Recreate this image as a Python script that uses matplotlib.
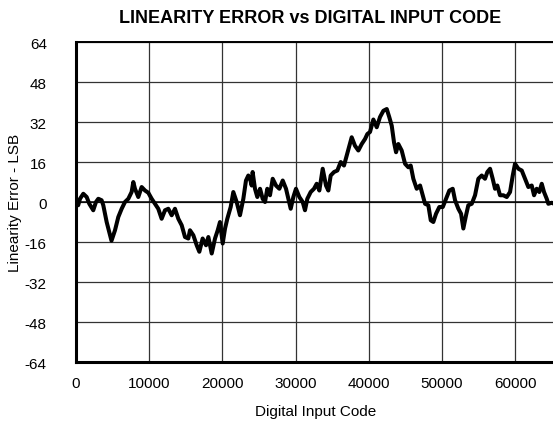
import matplotlib
matplotlib.use("Agg")
import matplotlib.pyplot as plt

plt.rcParams['font.family'] = ['Liberation Sans', 'DejaVu Sans']

# Linearity error (LSB)
codes = [0, 300, 550, 1000, 1460, 1820, 2360, 2730, 3050, 3500, 3730, 4190, 4740, 4850,
         5330, 5780, 6240, 6690, 7150, 7380, 7600, 7830, 8060, 8510, 8970, 9430, 9880,
         10340, 10790, 11240, 11700, 12160, 12610, 13070, 13520, 13980, 14440, 14890,
         15340, 15570, 16030, 16490, 16850, 17300, 17760, 18080, 18540, 18990, 19360,
         19670, 20040, 20360, 20670, 21130, 21490, 21950, 22400, 22860, 23220, 23540,
         23770, 24000, 24130, 24450, 24770, 25140, 25500, 25820, 26130, 26500, 26870,
         27320, 27780, 28240, 28690, 29010, 29330, 29690, 30050, 30510, 30970, 31280,
         31600, 32060, 32510, 32880, 33240, 33700, 34150, 34470, 34790, 35250, 35700,
         36160, 36610, 36980, 37340, 37660, 38110, 38570, 39030, 39480, 39800, 40160,
         40620, 41080, 41530, 41990, 42450, 42800, 43130, 43440, 43720, 44030, 44490,
         44950, 45400, 45720, 46080, 46540, 47000, 47360, 47680, 48130, 48460, 48810,
         49180, 49630, 50100, 50550, 51000, 51460, 51780, 52230, 52600, 52910, 53280,
         53590, 54060, 54510, 54960, 55420, 55870, 56190, 56560, 56920, 57240, 57550,
         57920, 58370, 58840, 59290, 59660, 59970, 60430, 60890, 61340, 61790, 62250,
         62570, 62930, 63290, 63620, 63930, 64300, 64520, 64990, 65535]
error_lsb = [-0.5, -1.3, 1.3, 3.3, 2, -0.7, -3.3, 0, 1.3, 0.7, -1.3, -8, -14.3, -15.5,
             -11.3, -6, -2.7, 0, 1.3, 2.7, 4, 8, 5.3, 2, 6, 4.6, 3.7,
             1.3, -0.7, -2.7, -6.7, -3.3, -2.7, -5.3, -2.7, -6.7, -9.3, -14,
             -14.6, -11.3, -13.3, -17.3, -19.9, -14.6, -17.3, -14.0, -20.6, -14.6, -11.3,
             -8, -16.6, -10.6, -6.7, -2, 4, 0, -5.3, 1.3, 8.6, 10.6,
             9.3, 6.6, 12, 5.3, 2, 5.3, 1.3, 0, 5.3, 2.7, 9.3,
             6.6, 5.3, 8.6, 5.3, 1.3, -2.7, 2, 5.3, 2, 0, -3.3,
             1.3, 4, 5.3, 7.3, 4.6, 13.3, 6.6, 4.6, 10.6, 12, 12.6,
             16, 14.6, 18.6, 22.5, 25.9, 22.5, 20.6, 23.2, 25.2, 27.2, 28,
             33, 29.9, 34, 36.5, 37.2, 33.9, 30.5, 23.9, 19.9, 23.2, 20.6,
             15.3, 13.9, 14.6, 9.3, 5.3, 6.6, 2.7, -0.7, -1.3, -7.3, -8,
             -4.7, -2, -2, 1.3, 4.6, 5.3, 0.7, -2.7, -4.7, -10.6, -5.3,
             -1.3, -0.7, 2.7, 9.3, 10.6, 9.3, 12, 13.3, 9.3, 5.3, 6.6,
             2.7, 2.7, 2, 4, 10.6, 15.3, 13.3, 12.6, 9.3, 6, 6.6,
             2.7, 5.3, 4, 7.3, 4, 1.3, -0.7, -0.3, -1]

x_ticks = [0, 10000, 20000, 30000, 40000, 50000, 60000]
y_ticks = [-64, -48, -32, -16, 0, 16, 32, 48, 64]

fig = plt.figure(figsize=(5.53, 4.35), dpi=100)
ax = fig.add_axes([0.1374, 0.1655, 0.8676, 0.7356])

ax.plot(codes, error_lsb, color='black', linewidth=2.9, solid_joinstyle='round', zorder=3)

ax.set_xlim(0, 65535)
ax.set_ylim(-64, 64)
ax.set_xticks(x_ticks)
ax.set_yticks(y_ticks)
ax.set_xticklabels([str(t) for t in x_ticks])
ax.set_yticklabels([str(t) for t in y_ticks])
ax.tick_params(axis='both', length=0, labelsize=11)
ax.tick_params(axis='y', pad=21)
ax.tick_params(axis='x', pad=10)

ax.grid(True, color='#333333', linewidth=0.9)
ax.axhline(0, color='black', linewidth=1.1, zorder=2)

ax.spines['left'].set_linewidth(2.2)
ax.spines['bottom'].set_linewidth(2.2)
ax.spines['top'].set_linewidth(1.4)
ax.spines['right'].set_visible(False)

ax.set_xlabel('Digital Input Code', fontsize=11, labelpad=10)
ax.set_ylabel('Linearity Error - LSB', fontsize=11, labelpad=2)
fig.text(0.56, 0.958, 'LINEARITY ERROR vs DIGITAL INPUT CODE', ha='center', va='center',
         fontsize=13, fontweight='bold')

fig.savefig('out.png', dpi=100)
